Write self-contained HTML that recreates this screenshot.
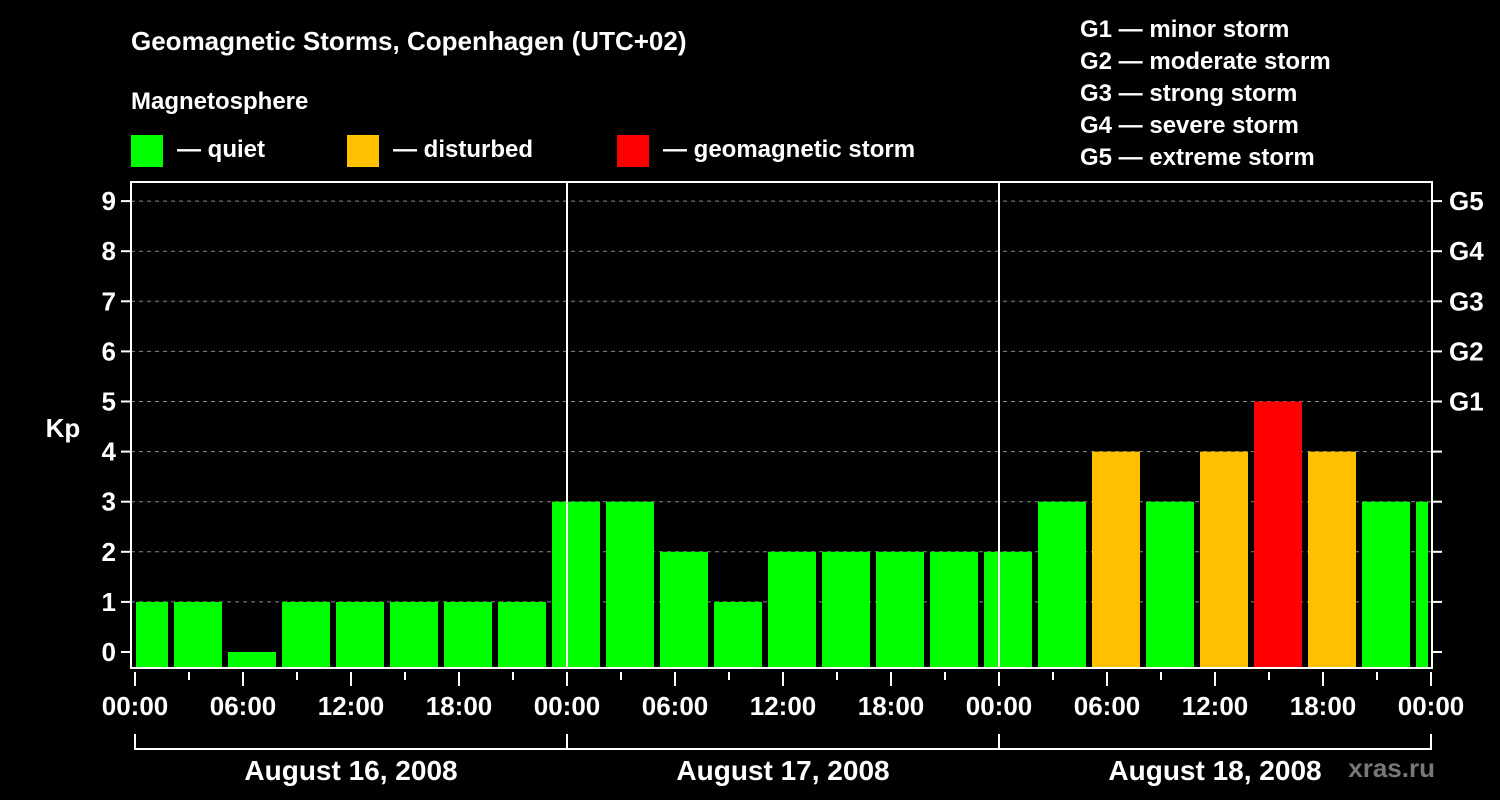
<!DOCTYPE html>
<html><head><meta charset="utf-8"><style>
html,body{margin:0;padding:0;background:#000;}
svg{display:block;font-family:"Liberation Sans",Arial,sans-serif;font-weight:bold;}
</style></head><body>
<svg id="chart" width="1500" height="800" viewBox="0 0 1500 800">
<rect width="1500" height="800" fill="#000"/>
<text x="131" y="50" fill="#fff" font-size="26">Geomagnetic Storms, Copenhagen (UTC+02)</text>
<text x="131" y="109" fill="#fff" font-size="24">Magnetosphere</text>
<g><rect x="131" y="135" width="32" height="32" fill="#00ff00"/><text x="177" y="157" fill="#fff" font-size="24">— quiet</text></g>
<g><rect x="347" y="135" width="32" height="32" fill="#ffc000"/><text x="393" y="157" fill="#fff" font-size="24">— disturbed</text></g>
<g><rect x="617" y="135" width="32" height="32" fill="#ff0000"/><text x="663" y="157" fill="#fff" font-size="24">— geomagnetic storm</text></g>
<g fill="#fff" font-size="24">
<text x="1080" y="37">G1 — minor storm</text>
<text x="1080" y="69">G2 — moderate storm</text>
<text x="1080" y="101">G3 — strong storm</text>
<text x="1080" y="133">G4 — severe storm</text>
<text x="1080" y="165">G5 — extreme storm</text>
</g>
<g id="grid"></g>
<g id="bars"></g>
<g id="axes"></g>
<text x="63" y="437" fill="#fff" font-size="26" text-anchor="middle">Kp</text>
<text x="1435" y="777" fill="#777" font-size="26" text-anchor="end">xras.ru</text>
</svg>
<script>
const kpValues=[1,1,0,1,1,1,1,1,3,3,2,1,2,2,2,2,2,3,4,3,4,5,4,3,3];
const barStartHours=[-1,2,5,8,11,14,17,20,23,26,29,32,35,38,41,44,47,50,53,56,59,62,65,68,71];
const yTicks=[0,1,2,3,4,5,6,7,8,9];
const gLabels=["G1","G2","G3","G4","G5"];
const xTickLabels=["00:00","06:00","12:00","18:00","00:00","06:00","12:00","18:00","00:00","06:00","12:00","18:00","00:00"];
const dayLabels=["August 16, 2008","August 17, 2008","August 18, 2008"];
const NS="http://www.w3.org/2000/svg";
const L=131,R=1432,T=182,B=668;
const x=h=>135+18*h;
const y=v=>652-50.1*v;
function mk(p,tag,a){const e=document.createElementNS(NS,tag);for(const k in a)e.setAttribute(k,a[k]);p.appendChild(e);return e;}
const grid=document.getElementById('grid'),bars=document.getElementById('bars'),axes=document.getElementById('axes');
yTicks.forEach(v=>{if(v<1)return;const l=mk(grid,'line',{x1:L,x2:R,y1:y(v),y2:y(v),stroke:'#888','stroke-dasharray':'4,4','stroke-width':1});

});
kpValues.forEach((v,i)=>{const h=barStartHours[i];let x0=x(h)+3,x1=x(h+3)-3;x0=Math.max(x0,136);x1=Math.min(x1,1428);
const col=v>=5?'#ff0000':(v>=4?'#ffc000':'#00ff00');
const r=mk(bars,'rect',{x:x0,y:y(v),width:x1-x0,height:B-y(v),fill:col});

});
// axes frame
mk(axes,'rect',{x:L,y:T,width:R-L,height:B-T,fill:'none',stroke:'#fff','stroke-width':2});
[1,2].forEach(d=>mk(axes,'line',{x1:x(24*d),x2:x(24*d),y1:T,y2:B,stroke:'#fff','stroke-width':2}));
yTicks.forEach(v=>{mk(axes,'line',{x1:121,x2:L,y1:y(v),y2:y(v),stroke:'#fff','stroke-width':2});
mk(axes,'line',{x1:R,x2:1442,y1:y(v),y2:y(v),stroke:'#fff','stroke-width':2});
const t=mk(axes,'text',{x:116,y:y(v)+9,fill:'#fff','font-size':26,'text-anchor':'end'});t.textContent=v;

});
gLabels.forEach((g,i)=>{const t=mk(axes,'text',{x:1449,y:y(5+i)+9,fill:'#fff','font-size':26});t.textContent=g;

});
for(let h=0;h<=72;h+=3){const maj=h%6===0;mk(axes,'line',{x1:x(h),x2:x(h),y1:672,y2:maj?686:680,stroke:'#fff','stroke-width':2});}
xTickLabels.forEach((s,i)=>{const t=mk(axes,'text',{x:x(6*i),y:715,fill:'#fff','font-size':26,'text-anchor':'middle'});t.textContent=s;

});
mk(axes,'path',{d:`M${x(0)},734V749H${x(72)}V734`,fill:'none',stroke:'#fff','stroke-width':2});
[1,2].forEach(d=>mk(axes,'line',{x1:x(24*d),x2:x(24*d),y1:734,y2:749,stroke:'#fff','stroke-width':2}));
dayLabels.forEach((s,i)=>{const t=mk(axes,'text',{x:x(24*i+12),y:780,fill:'#fff','font-size':28,'text-anchor':'middle'});t.textContent=s;

});
</script>
</body></html>
